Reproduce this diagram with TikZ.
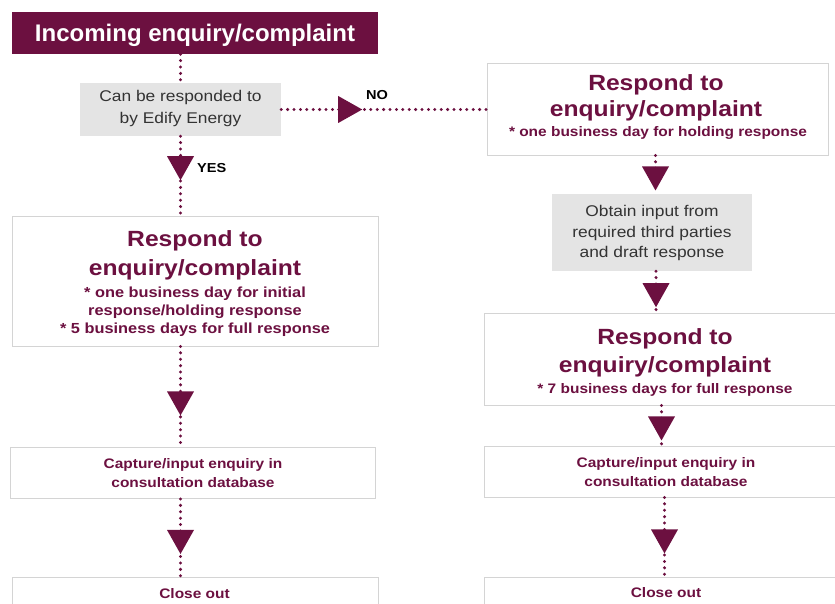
\documentclass[tikz,border=0pt]{standalone}
\usepackage{fontspec}
\setmainfont[FakeStretch=1.12]{Liberation Sans}
\newfontfamily\titlefont{Liberation Sans}
\usetikzlibrary{decorations.markings}
\definecolor{edmaroon}{RGB}{108,16,64}
\definecolor{boxgray}{RGB}{212,212,212}
\definecolor{greyfill}{RGB}{228,228,228}
\definecolor{greytext}{RGB}{51,51,51}
\tikzset{
  tbox/.style={rectangle, fill=edmaroon, draw=none, inner sep=0, minimum width=366pt, minimum height=42pt},
  ttext/.style={anchor=base, inner sep=0, text=white, font=\titlefont\bfseries\fontsize{24}{28}\selectfont},
  wbox/.style={rectangle, fill=white, draw=boxgray, line width=0.9pt, inner sep=0},
  gbox/.style={rectangle, fill=greyfill, draw=none, inner sep=0},
  gtext/.style={anchor=base, inner sep=0, text=greytext, font=\fontsize{15.5}{18}\selectfont},
  bigtext/.style={anchor=base, inner sep=0, text=edmaroon, font=\bfseries\fontsize{22}{26}\selectfont},
  smtext/.style={anchor=base, inner sep=0, text=edmaroon, font=\bfseries\fontsize{13.8}{16}\selectfont},
  smtextl/.style={anchor=base, inner sep=0, text=edmaroon, font=\bfseries\fontsize{14.6}{17}\selectfont},
  lbl/.style={anchor=base west, inner sep=0, text=black, font=\bfseries\fontsize{13}{15}\selectfont},
  conn/.style={edmaroon, line width=3.3pt, line cap=round, dash pattern=on 0pt off 6.4pt},
  tri/.style={postaction={decorate, decoration={markings,
      mark=at position #1 with {\fill[edmaroon] (0pt,0pt) -- (-24pt,13.5pt) -- (-24pt,-13.5pt) -- cycle;}}}}
}
\begin{document}
\begin{tikzpicture}[x=1pt,y=-1pt]
\useasboundingbox (0,0) rectangle (835,604);
\clip (0,0) rectangle (835,604);

% ---------- left column ----------
\node[tbox] (title) at (195,33) {};
\node[ttext] (titletxt) at (195,41.5) {Incoming enquiry/complaint};

\node[gbox, minimum width=201pt, minimum height=53pt] (q) at (180.5,109.5) {};
\node[gtext] (q1) at (180.5,101.5) {Can be responded to};
\node[gtext] (q2) at (180.5,124) {by Edify Energy};

\node[wbox, minimum width=366pt, minimum height=130pt] (rl) at (195,281) {};
\node[bigtext] (rl1) at (195,247) {Respond to};
\node[bigtext] (rl2) at (195,275) {enquiry/complaint};
\node[smtextl] (rl3) at (195,297) {* one business day for initial};
\node[smtextl] (rl4) at (195,315) {response/holding response};
\node[smtextl] (rl5) at (195,333.5) {* 5 business days for full response};

\node[wbox, minimum width=365pt, minimum height=51pt] (cl) at (192.5,473) {};
\node[smtext] (cl1) at (193,468) {Capture/input enquiry in};
\node[smtext] (cl2) at (193,487) {consultation database};

\node[wbox, minimum width=366pt, minimum height=40pt] (xl) at (195,597) {};
\node[smtext] (xl1) at (194.5,598) {Close out};

% ---------- right column ----------
\node[wbox, minimum width=341pt, minimum height=92pt] (rr) at (657.5,109) {};
\node[bigtext] (rr1) at (656,91) {Respond to};
\node[bigtext] (rr2) at (656,117) {enquiry/complaint};
\node[smtext] (rr3) at (658,137) {* one business day for holding response};

\node[gbox, minimum width=200pt, minimum height=77pt] (g) at (652,232.5) {};
\node[gtext] (g1) at (652,217) {Obtain input from};
\node[gtext] (g2) at (652,237) {required third parties};
\node[gtext] (g3) at (652,257) {and draft response};

\node[wbox, minimum width=361pt, minimum height=92pt] (rs) at (664.5,359) {};
\node[bigtext] (rs1) at (665,344) {Respond to};
\node[bigtext] (rs2) at (665,372) {enquiry/complaint};
\node[smtext] (rs3) at (665,393) {* 7 business days for full response};

\node[wbox, minimum width=361pt, minimum height=51pt] (cr) at (664.5,471.5) {};
\node[smtext] (cr1) at (666,467) {Capture/input enquiry in};
\node[smtext] (cr2) at (666,486) {consultation database};

\node[wbox, minimum width=361pt, minimum height=40pt] (xr) at (664.5,597) {};
\node[smtext] (xr1) at (666,597) {Close out};

% ---------- connectors ----------
\draw[conn] (title.south -| q.north) -- (q.north);
\draw[conn, tri=44pt] (q.south) -- (q.south |- rl.north);
\draw[conn, tri=81pt] (q.east) -- (q.east -| rr.west);
\draw[conn, tri=69pt] (rl.south -| q.south) -- (cl.north -| q.south);
\draw[conn, tri=55pt] (cl.south -| q.south) -- (xl.north -| q.south);

\draw[conn, tri=35pt] ([xshift=-2pt]rr.south) -- ([xshift=-2pt]rr.south |- g.north);
\draw[conn, tri=36pt] ([xshift=4pt]g.south) -- ([xshift=4pt]g.south |- rs.north);
\draw[conn, tri=35pt] ([xshift=-3pt]rs.south) -- ([xshift=-3pt]rs.south |- cr.north);
\draw[conn, tri=56pt] (cr.south) -- (cr.south |- xr.north);

% ---------- labels ----------
\node[lbl] (yes) at (197,173) {YES};
\node[lbl] (no) at (366,100) {NO};
\end{tikzpicture}
\end{document}
